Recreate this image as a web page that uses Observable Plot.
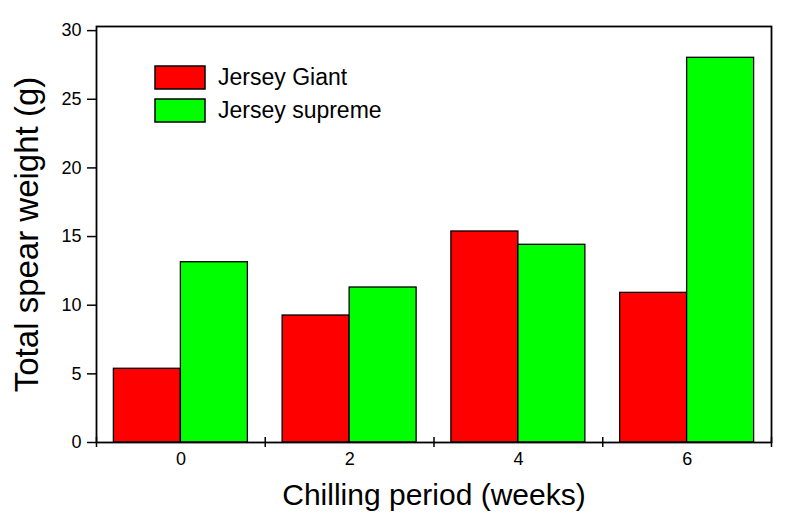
<!DOCTYPE html>
<html><head><meta charset="utf-8">
<script src="https://cdn.jsdelivr.net/npm/d3@7"></script>
<script src="https://cdn.jsdelivr.net/npm/@observablehq/plot@0.6"></script>
<style>
body{margin:0;background:#fff;font-family:"Liberation Sans",Arial,sans-serif}
#chart{position:relative;width:787px;height:522px}
#legend{position:absolute;left:155px;top:64px}
#legend div{font:23px/27px "Liberation Sans",Arial,sans-serif !important;color:#000 !important;overflow:visible}
#legend .leg-swatch{margin-bottom:6px !important;padding-bottom:0 !important;display:flex;align-items:center}
#legend svg{margin-right:13px !important;overflow:visible}
#legend svg rect{stroke:#000;stroke-width:1.5px}
</style></head><body><div id="chart"><div id="legend"></div></div>
<script>
const weeks = [0, 2, 4, 6];
const seriesNames = ["Jersey Giant", "Jersey supreme"];
const giant = [5.37, 9.25, 15.37, 10.9];
const supreme = [13.13, 11.29, 14.4, 28.02];
const yTicks = [0, 5, 10, 15, 20, 25, 30];
const xLabels = ["0", "2", "4", "6"];
const colors = ["#ff0000", "#00ff00"];

// each group spans [week-1, week+1]; bars sit side by side with outer padding
const groupPad = 0.206;
const rows = weeks.flatMap((w, i) => [
  {week: w, series: seriesNames[0], value: giant[i], x1: w - 1 + groupPad, x2: w},
  {week: w, series: seriesNames[1], value: supreme[i], x1: w, x2: w + 1 - groupPad}
]);
const bounds = [-1, ...weeks.map(w => w + 1)];

const plot = Plot.plot({
  width: 787, height: 522,
  marginLeft: 96, marginRight: 16, marginTop: 26, marginBottom: 80,
  style: {fontFamily: '"Liberation Sans", Arial, sans-serif', color: "#000", background: "#fff"},
  x: {type: "linear", domain: [-1, 7]},
  y: {domain: [0, 30.3]},
  color: {domain: seriesNames, range: colors},
  marks: [
    Plot.rectY(rows, {x1: "x1", x2: "x2", y: "value", fill: "series", stroke: "#000", strokeWidth: 1.3}),
    Plot.frame({stroke: "#000", strokeWidth: 1.8}),
    Plot.ruleX(bounds, {x: d => d, y1: 0, y2: 0, insetTop: 5, insetBottom: 5, stroke: "#000", strokeWidth: 1.5}),
    Plot.axisY({ticks: yTicks, tickSize: 9, tickPadding: 6, fontSize: 18, label: null, strokeWidth: 1.5}),
    Plot.axisX({ticks: weeks, tickFormat: (d, i) => xLabels[i], tickSize: 0, tickPadding: 10, fontSize: 18, label: null}),
    Plot.axisY({ticks: [], label: "Total spear weight (g)", labelAnchor: "center", labelOffset: 82, labelArrow: "none", fontSize: 33}),
    Plot.axisX({ticks: [], label: "Chilling period (weeks)", labelAnchor: "center", labelOffset: 62, labelArrow: "none", fontSize: 30})
  ]
});
document.getElementById("chart").prepend(plot);
const leg = plot.legend("color", {swatchWidth: 50, swatchHeight: 23, columns: 1, className: "leg"});
document.getElementById("legend").appendChild(leg);
</script></body></html>
